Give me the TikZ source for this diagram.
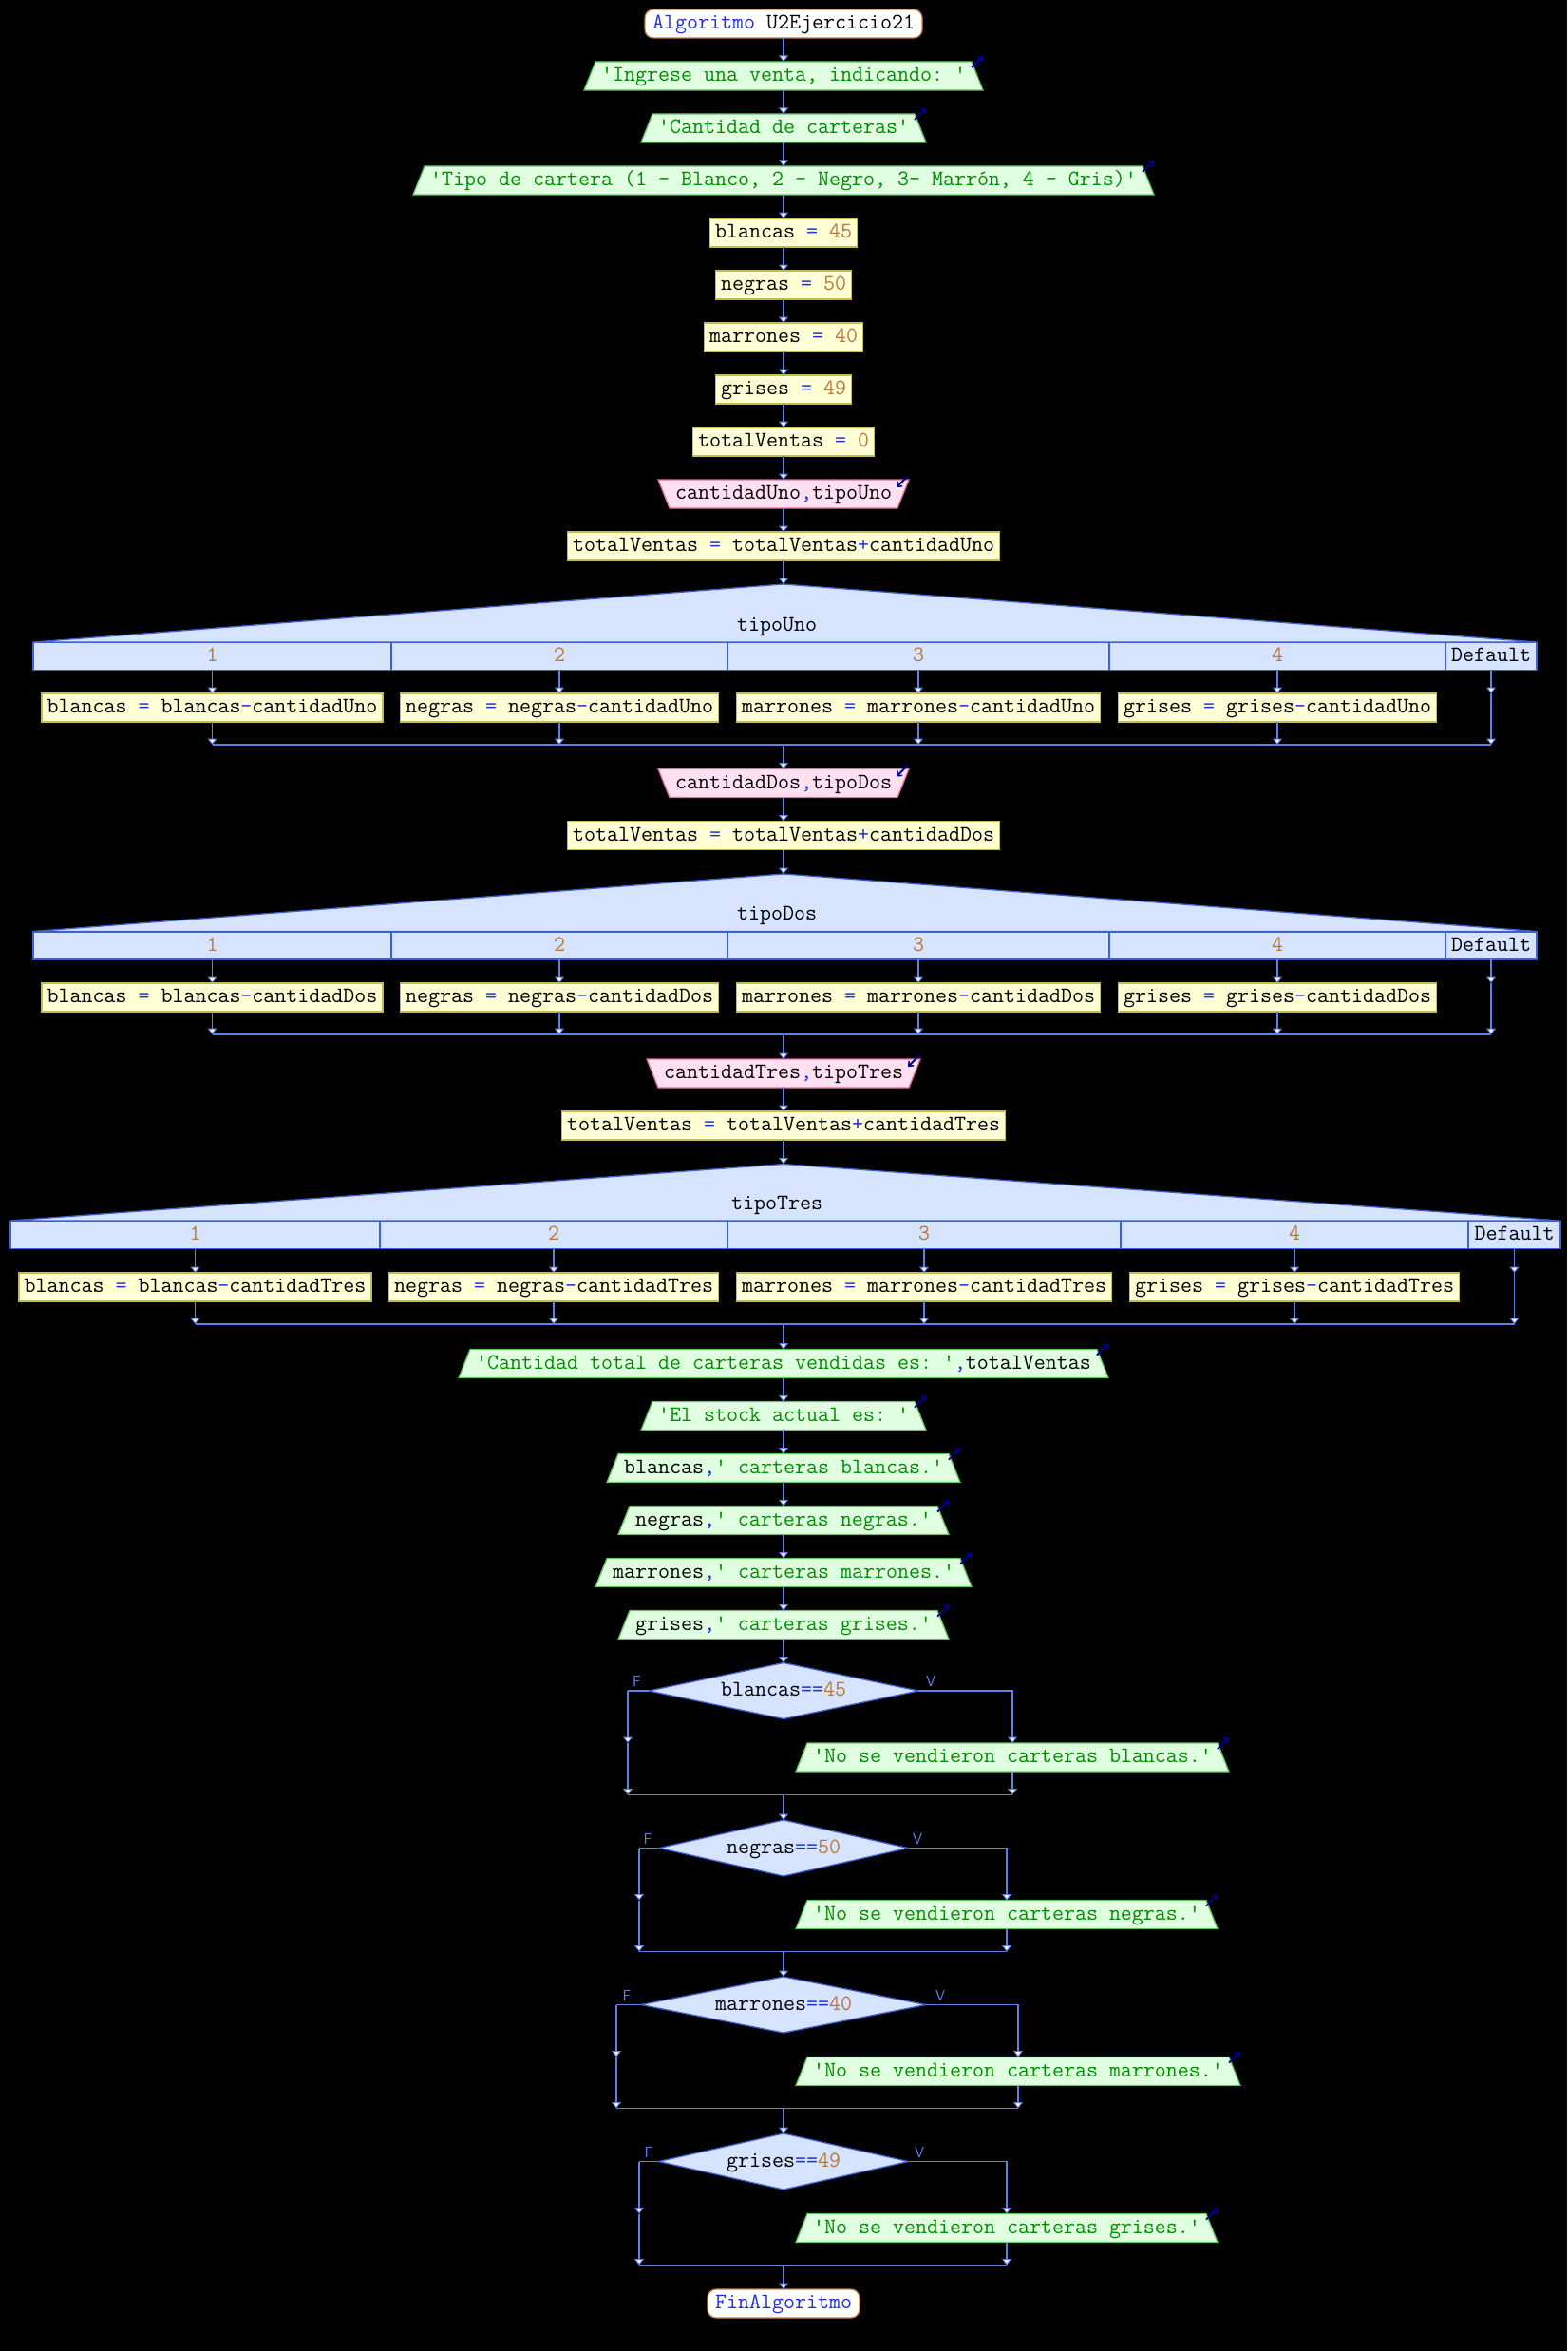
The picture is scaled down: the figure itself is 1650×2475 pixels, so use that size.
\documentclass[tikz,border=0pt]{standalone}
\usetikzlibrary{arrows.meta,shapes.geometric,calc}
\definecolor{lnc}{RGB}{96,128,232}
\definecolor{swfill}{RGB}{214,228,255}
\definecolor{swline}{RGB}{64,96,208}
\definecolor{asfill}{RGB}{255,255,214}
\definecolor{asline}{RGB}{196,188,80}
\definecolor{outfill}{RGB}{224,255,224}
\definecolor{outln}{RGB}{100,196,100}
\definecolor{infill}{RGB}{255,224,240}
\definecolor{inln}{RGB}{224,112,160}
\definecolor{termln}{RGB}{200,128,64}
\definecolor{kwc}{RGB}{32,48,210}
\definecolor{numc}{RGB}{184,120,56}
\definecolor{strc}{RGB}{0,140,0}
\definecolor{iconc}{RGB}{0,0,150}
\pgfdeclarelayer{back}
\pgfdeclarelayer{shp}
\pgfsetlayers{back,shp,main}
\newcommand\pk[1]{\textcolor{kwc}{#1}}
\newcommand\pn[1]{\textcolor{numc}{#1}}
\newcommand\ps[1]{\textcolor{strc}{#1}}
\newcommand\q{\textquotesingle}
\newcommand\otrap[1]{%
  \begin{pgfonlayer}{shp}
  \path[trapo] (#1.north west) -- (#1.north east) -- ([xshift=12pt]#1.south east) -- ([xshift=-12pt]#1.south west) -- cycle;
  \end{pgfonlayer}
  \draw[icon] ([shift={(0,6)}]#1.north east) -- ++(12,-12);}
\newcommand\itrap[1]{%
  \begin{pgfonlayer}{shp}
  \path[trapi] ([xshift=-12pt]#1.north west) -- ([xshift=12pt]#1.north east) -- (#1.south east) -- (#1.south west) -- cycle;
  \end{pgfonlayer}
  \draw[icon] ([shift={(11,-4)}]#1.north east) -- ++(-12,12);}
\tikzset{
  base/.style={font=\fontsize{23.3}{26}\selectfont\ttfamily\frenchspacing, text height=16pt, text depth=5pt, inner ysep=4.5pt, outer sep=0pt, anchor=center},
  term/.style={base, draw=termln, fill=white, rounded corners=9pt, line width=1.3pt, inner xsep=8pt},
  asg/.style={base, draw=asline, fill=asfill, line width=1.3pt, inner xsep=5.5pt},
  outn/.style={base, inner xsep=6pt},
  inn/.style={base, inner xsep=6pt},
  cell/.style={base, draw=swline, fill=swfill, line width=1.1pt, inner sep=0pt, minimum height=29pt},
  lbl/.style={base, anchor=base, inner sep=0pt, text height=, text depth=},
  dec/.style={base, diamond, aspect=4.8, draw=swline, fill=swfill, line width=1.3pt, inner sep=0pt, minimum height=59pt},
  flow/.style={draw=lnc, line width=1.6pt},
  arr/.style={flow, -{Triangle[width=10pt,length=6.5pt,fill=white,line width=1pt]}},
  icon/.style={draw=iconc, line width=1.8pt, -{Straight Barb[length=4pt,width=7pt,line width=1.5pt]}},
  fv/.style={font=\fontsize{16}{16}\selectfont\sffamily, text=lnc, inner sep=0pt},
  trapo/.style={draw=outln, fill=outfill, line width=1.3pt},
  trapi/.style={draw=inln, fill=infill, line width=1.3pt},
  swtri/.style={draw=swline, fill=swfill, line width=1.3pt},
}
\begin{document}
\begin{tikzpicture}[x=1pt,y=-1pt]
\begin{pgfonlayer}{back}
\fill[black] (0,0) rectangle (1650,2475);
\end{pgfonlayer}
\useasboundingbox (0,0) rectangle (1650,2475);

% ---------- top sequence ----------
\node[term] (start) at (825,25) {\pk{Algoritmo} U2Ejercicio21};
\node[outn] (o1) at (825,80) {\ps{\q{}Ingrese una venta, indicando: \q{}}}; \otrap{o1}
\node[outn] (o2) at (825,135) {\ps{\q{}Cantidad de carteras\q{}}}; \otrap{o2}
\node[outn] (o3) at (825,190) {\ps{\q{}Tipo de cartera (1 - Blanco, 2 - Negro, 3- Marrón, 4 - Gris)\q{}}}; \otrap{o3}
\node[asg] (a1) at (825,245) {blancas \pk{=} \pn{45}};
\node[asg] (a2) at (825,300) {negras \pk{=} \pn{50}};
\node[asg] (a3) at (825,355) {marrones \pk{=} \pn{40}};
\node[asg] (a4) at (825,410) {grises \pk{=} \pn{49}};
\node[asg] (a5) at (825,465) {totalVentas \pk{=} \pn{0}};
\node[inn] (in1) at (825,520) {cantidadUno\pk{,}tipoUno}; \itrap{in1}
\node[asg] (t1) at (825,575) {totalVentas \pk{=} totalVentas\pk{+}cantidadUno};

\draw[arr] (start.south) -- (o1.north);
\draw[arr] (o1.south) -- (o2.north);
\draw[arr] (o2.south) -- (o3.north);
\draw[arr] (o3.south) -- (a1.north);
\draw[arr] (a1.south) -- (a2.north);
\draw[arr] (a2.south) -- (a3.north);
\draw[arr] (a3.south) -- (a4.north);
\draw[arr] (a4.south) -- (a5.north);
\draw[arr] (a5.south) -- (in1.north);
\draw[arr] (in1.south) -- (t1.north);

% ---------- switch 1 ----------
\coordinate (sw1a) at (825,615);
\begin{pgfonlayer}{shp}
\path[swtri] (sw1a) -- (35,676) -- (1618,676) -- cycle;
\end{pgfonlayer}
\node[lbl] (sw1l) at (818,664) {tipoUno};
\node[cell,minimum width=377pt] (s1c1) at (223.5,691) {\pn{1}};
\node[cell,minimum width=354pt] (s1c2) at (589,691) {\pn{2}};
\node[cell,minimum width=402pt] (s1c3) at (967,691) {\pn{3}};
\node[cell,minimum width=354pt] (s1c4) at (1345,691) {\pn{4}};
\node[cell,minimum width=96pt] (s1c5) at (1570,691) {Default};
\node[asg] (s1a1) at (223.5,745) {blancas \pk{=} blancas\pk{-}cantidadUno};
\node[asg] (s1a2) at (589,745) {negras \pk{=} negras\pk{-}cantidadUno};
\node[asg] (s1a3) at (967,745) {marrones \pk{=} marrones\pk{-}cantidadUno};
\node[asg] (s1a4) at (1345,745) {grises \pk{=} grises\pk{-}cantidadUno};
\coordinate (s1d) at (1570,730);
\coordinate (j1) at (825,784);
\draw[arr] (t1.south) -- (sw1a);
\foreach \i in {1,...,4} {
  \draw[arr] (s1c\i.south) -- (s1a\i.north);
  \draw[arr] (s1a\i.south) -- (s1a\i.south |- j1);
}
\draw[arr] (s1c5.south) -- (s1d);
\draw[arr] (s1d) -- (s1d |- j1);
\draw[flow] (s1a1.south |- j1) -- (s1d |- j1);

\node[inn] (in2) at (825,824.5) {cantidadDos\pk{,}tipoDos}; \itrap{in2}
\node[asg] (t2) at (825,879.5) {totalVentas \pk{=} totalVentas\pk{+}cantidadDos};
\draw[arr] (j1) -- (in2.north);
\draw[arr] (in2.south) -- (t2.north);

% ---------- switch 2 ----------
\coordinate (sw2a) at (825,920);
\begin{pgfonlayer}{shp}
\path[swtri] (sw2a) -- (35,980.5) -- (1618,980.5) -- cycle;
\end{pgfonlayer}
\node[lbl] (sw2l) at (818,968.5) {tipoDos};
\node[cell,minimum width=377pt] (s2c1) at (223.5,995.5) {\pn{1}};
\node[cell,minimum width=354pt] (s2c2) at (589,995.5) {\pn{2}};
\node[cell,minimum width=402pt] (s2c3) at (967,995.5) {\pn{3}};
\node[cell,minimum width=354pt] (s2c4) at (1345,995.5) {\pn{4}};
\node[cell,minimum width=96pt] (s2c5) at (1570,995.5) {Default};
\node[asg] (s2a1) at (223.5,1050) {blancas \pk{=} blancas\pk{-}cantidadDos};
\node[asg] (s2a2) at (589,1050) {negras \pk{=} negras\pk{-}cantidadDos};
\node[asg] (s2a3) at (967,1050) {marrones \pk{=} marrones\pk{-}cantidadDos};
\node[asg] (s2a4) at (1345,1050) {grises \pk{=} grises\pk{-}cantidadDos};
\coordinate (s2d) at (1570,1035);
\coordinate (j2) at (825,1089);
\draw[arr] (t2.south) -- (sw2a);
\foreach \i in {1,...,4} {
  \draw[arr] (s2c\i.south) -- (s2a\i.north);
  \draw[arr] (s2a\i.south) -- (s2a\i.south |- j2);
}
\draw[arr] (s2c5.south) -- (s2d);
\draw[arr] (s2d) -- (s2d |- j2);
\draw[flow] (s2a1.south |- j2) -- (s2d |- j2);

\node[inn] (in3) at (825,1130) {cantidadTres\pk{,}tipoTres}; \itrap{in3}
\node[asg] (t3) at (825,1185) {totalVentas \pk{=} totalVentas\pk{+}cantidadTres};
\draw[arr] (j2) -- (in3.north);
\draw[arr] (in3.south) -- (t3.north);

% ---------- switch 3 ----------
\coordinate (sw3a) at (825,1225.5);
\begin{pgfonlayer}{shp}
\path[swtri] (sw3a) -- (11,1285) -- (1643,1285) -- cycle;
\end{pgfonlayer}
\node[lbl] (sw3l) at (818,1273) {tipoTres};
\node[cell,minimum width=389pt] (s3c1) at (205.5,1300) {\pn{1}};
\node[cell,minimum width=366pt] (s3c2) at (583,1300) {\pn{2}};
\node[cell,minimum width=414pt] (s3c3) at (973,1300) {\pn{3}};
\node[cell,minimum width=366pt] (s3c4) at (1363,1300) {\pn{4}};
\node[cell,minimum width=97pt] (s3c5) at (1594.5,1300) {Default};
\node[asg] (s3a1) at (205.5,1355) {blancas \pk{=} blancas\pk{-}cantidadTres};
\node[asg] (s3a2) at (583,1355) {negras \pk{=} negras\pk{-}cantidadTres};
\node[asg] (s3a3) at (973,1355) {marrones \pk{=} marrones\pk{-}cantidadTres};
\node[asg] (s3a4) at (1363,1355) {grises \pk{=} grises\pk{-}cantidadTres};
\coordinate (s3d) at (1594.5,1340);
\coordinate (j3) at (825,1394);
\draw[arr] (t3.south) -- (sw3a);
\foreach \i in {1,...,4} {
  \draw[arr] (s3c\i.south) -- (s3a\i.north);
  \draw[arr] (s3a\i.south) -- (s3a\i.south |- j3);
}
\draw[arr] (s3c5.south) -- (s3d);
\draw[arr] (s3d) -- (s3d |- j3);
\draw[flow] (s3a1.south |- j3) -- (s3d |- j3);

% ---------- outputs ----------
\node[outn] (o4) at (825,1435.5) {\ps{\q{}Cantidad total de carteras vendidas es: \q{}}\pk{,}totalVentas}; \otrap{o4}
\node[outn] (o5) at (825,1490.5) {\ps{\q{}El stock actual es: \q{}}}; \otrap{o5}
\node[outn] (o6) at (825,1545.5) {blancas\pk{,}\ps{\q{} carteras blancas.\q{}}}; \otrap{o6}
\node[outn] (o7) at (825,1600.5) {negras\pk{,}\ps{\q{} carteras negras.\q{}}}; \otrap{o7}
\node[outn] (o8) at (825,1655.5) {marrones\pk{,}\ps{\q{} carteras marrones.\q{}}}; \otrap{o8}
\node[outn] (o9) at (825,1710.5) {grises\pk{,}\ps{\q{} carteras grises.\q{}}}; \otrap{o9}
\draw[arr] (j3) -- (o4.north);
\draw[arr] (o4.south) -- (o5.north);
\draw[arr] (o5.south) -- (o6.north);
\draw[arr] (o6.south) -- (o7.north);
\draw[arr] (o7.south) -- (o8.north);
\draw[arr] (o8.south) -- (o9.north);

% ---------- decisions ----------
% d1
\node[dec,minimum width=284pt] (d1) at (825,1780) {blancas\pk{==}\pn{45}};
\node[outn,anchor=west] (n1) at (850,1850) {\ps{\q{}No se vendieron carteras blancas.\q{}}}; \otrap{n1}
\coordinate (d1L) at (661,1780);
\coordinate (jd1) at (825,1889.5);
\node[fv] (f1) at (670.5,1770) {F};
\node[fv] (v1) at (980,1770) {V};
\draw[arr] (o9.south) -- (d1.north);
\draw[flow] (d1.west) -- (d1L);
\draw[arr] (d1L) -- (d1L |- n1.north);
\draw[arr] (d1L |- n1.north) -- (d1L |- jd1);
\draw[arr] (d1.east) -| (n1.north);
\draw[arr] (n1.south) -- (n1.south |- jd1);
\draw[flow] (d1L |- jd1) -- (n1.south |- jd1);
% d2
\node[dec,minimum width=262pt] (d2) at (825,1945.5) {negras\pk{==}\pn{50}};
\node[outn,anchor=west] (n2) at (850,2015.5) {\ps{\q{}No se vendieron carteras negras.\q{}}}; \otrap{n2}
\coordinate (d2L) at (673,1945.5);
\coordinate (jd2) at (825,2054.5);
\node[fv] (f2) at (682,1935.5) {F};
\node[fv] (v2) at (966,1935.5) {V};
\draw[arr] (jd1) -- (d2.north);
\draw[flow] (d2.west) -- (d2L);
\draw[arr] (d2L) -- (d2L |- n2.north);
\draw[arr] (d2L |- n2.north) -- (d2L |- jd2);
\draw[arr] (d2.east) -| (n2.north);
\draw[arr] (n2.south) -- (n2.south |- jd2);
\draw[flow] (d2L |- jd2) -- (n2.south |- jd2);
% d3
\node[dec,minimum width=300pt] (d3) at (825,2110.5) {marrones\pk{==}\pn{40}};
\node[outn,anchor=west] (n3) at (850,2180.5) {\ps{\q{}No se vendieron carteras marrones.\q{}}}; \otrap{n3}
\coordinate (d3L) at (649,2110.5);
\coordinate (jd3) at (825,2219.5);
\node[fv] (f3) at (660,2100.5) {F};
\node[fv] (v3) at (990,2100.5) {V};
\draw[arr] (jd2) -- (d3.north);
\draw[flow] (d3.west) -- (d3L);
\draw[arr] (d3L) -- (d3L |- n3.north);
\draw[arr] (d3L |- n3.north) -- (d3L |- jd3);
\draw[arr] (d3.east) -| (n3.north);
\draw[arr] (n3.south) -- (n3.south |- jd3);
\draw[flow] (d3L |- jd3) -- (n3.south |- jd3);
% d4
\node[dec,minimum width=263pt] (d4) at (825,2275.5) {grises\pk{==}\pn{49}};
\node[outn,anchor=west] (n4) at (850,2345.5) {\ps{\q{}No se vendieron carteras grises.\q{}}}; \otrap{n4}
\coordinate (d4L) at (673,2275.5);
\coordinate (jd4) at (825,2384.5);
\node[fv] (f4) at (683,2265.5) {F};
\node[fv] (v4) at (968,2265.5) {V};
\draw[arr] (jd3) -- (d4.north);
\draw[flow] (d4.west) -- (d4L);
\draw[arr] (d4L) -- (d4L |- n4.north);
\draw[arr] (d4L |- n4.north) -- (d4L |- jd4);
\draw[arr] (d4.east) -| (n4.north);
\draw[arr] (n4.south) -- (n4.south |- jd4);
\draw[flow] (d4L |- jd4) -- (n4.south |- jd4);

\node[term] (fin) at (825,2425) {\pk{FinAlgoritmo}};
\draw[arr] (jd4) -- (fin.north);
\end{tikzpicture}
\end{document}
